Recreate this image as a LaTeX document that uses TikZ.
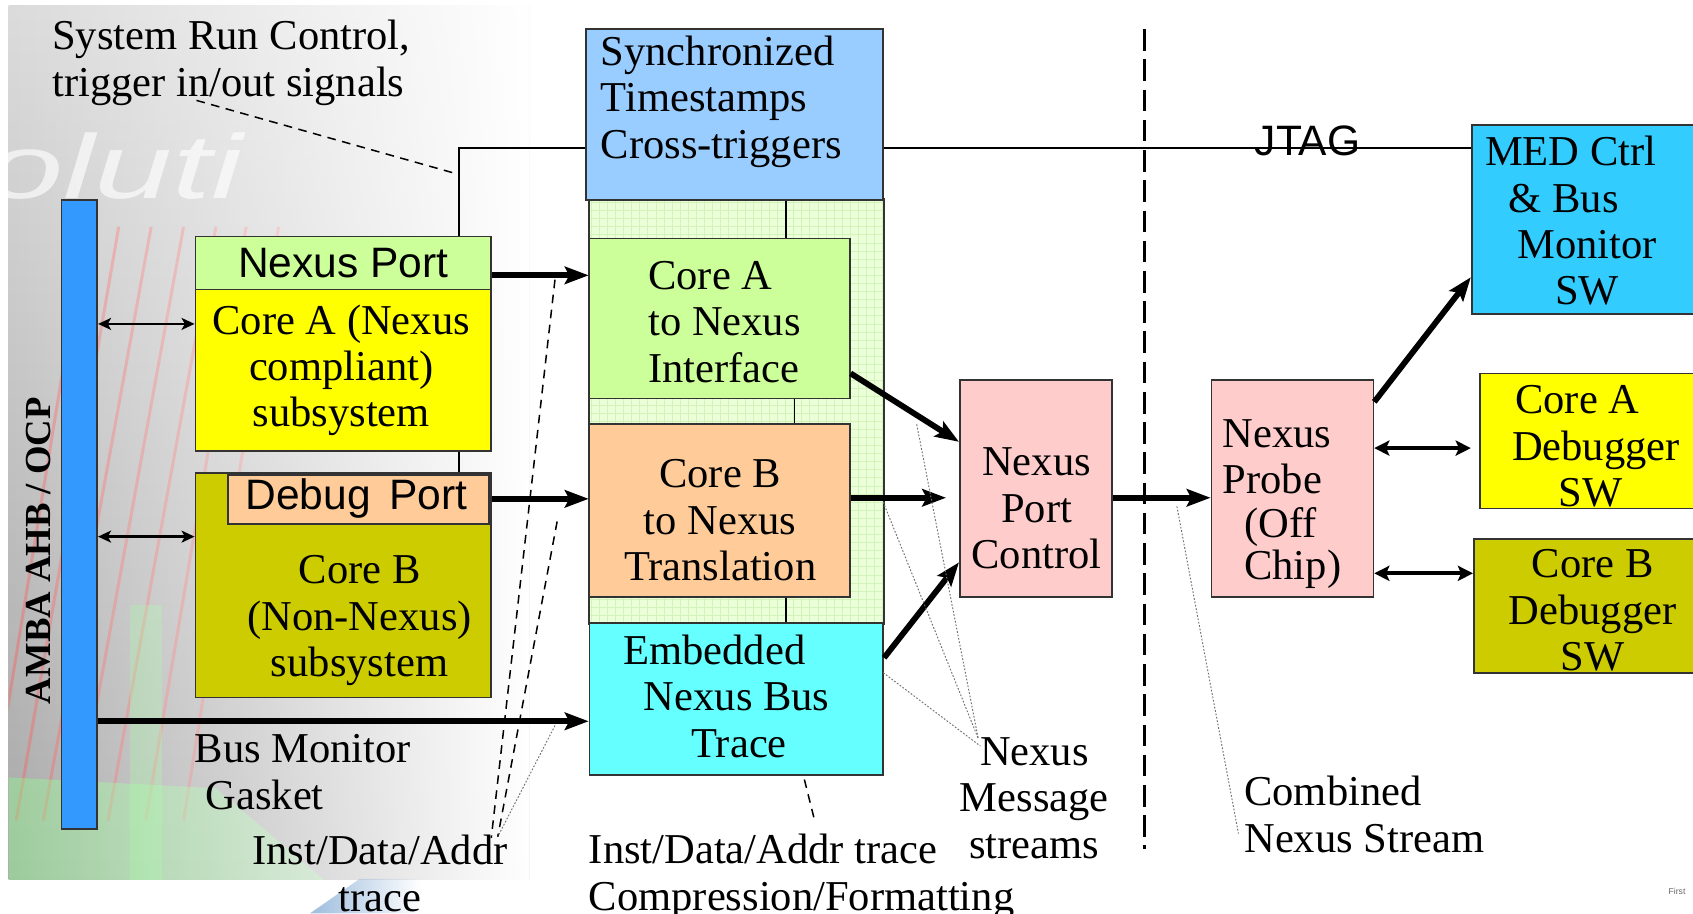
\documentclass[tikz,border=0pt]{standalone}
\usepackage{fontspec}
\setmainfont{Liberation Serif}
\newfontfamily\arialfont{Liberation Sans}
\usetikzlibrary{arrows.meta,fit,calc,fadings}

\definecolor{syncblue}{HTML}{99CCFF}
\definecolor{portgreen}{HTML}{CCFF99}
\definecolor{coreyellow}{HTML}{FFFF00}
\definecolor{coreolive}{HTML}{CCCC00}
\definecolor{peach}{HTML}{FFCC99}
\definecolor{tracecyan}{HTML}{66FFFF}
\definecolor{pinkbox}{HTML}{FFCCCC}
\definecolor{medblue}{HTML}{33CCFF}
\definecolor{busblue}{HTML}{3399FF}
\definecolor{gridfill}{HTML}{EBFFD9}
\definecolor{gridline}{HTML}{D3F3BA}
\definecolor{edge}{HTML}{333333}
\definecolor{steel}{HTML}{9DBCDD}

\tikzfading[name=whiteout, left color=transparent!100, right color=transparent!0]
\tikzfading[name=fadeeast, left color=transparent!0, right color=transparent!100]

\begin{document}
\begin{tikzpicture}[x=0.5pt, y=-0.5pt,
  box/.style={draw=edge, line width=0.8pt, inner sep=0pt},
  lbl/.style={inner sep=0pt, align=center, font=\fontsize{19.7pt}{21.5pt}\selectfont},
  sanslbl/.style={inner sep=0pt, font=\arialfont\fontsize{19.7pt}{21.5pt}\selectfont},
  wire/.style={line width=0.7pt},
  bigarrow/.style={line width=2.7pt, -{Stealth[length=11pt,width=8pt,inset=2pt]}},
  busarrow/.style={line width=1.3pt, {Stealth[length=6pt,width=5.5pt,inset=1.5pt]}-{Stealth[length=6pt,width=5.5pt,inset=1.5pt]}},
  hostarrow/.style={line width=2pt, {Stealth[length=7pt,width=7pt,inset=1.5pt]}-{Stealth[length=7pt,width=7pt,inset=1.5pt]}},
  pointer/.style={line width=0.7pt, dash pattern=on 4pt off 3pt},
  hairline/.style={line width=0.45pt, black!55, dash pattern=on 0.8pt off 0.8pt},
  divider/.style={line width=1.6pt, dash pattern=on 10pt off 4pt},
]
\useasboundingbox (0,0) rectangle (1568,846);

% photographic backdrop behind the on-chip side
\begin{scope}
  \clip (8,5) rectangle (490,815);
  \shade[top color=black!14, bottom color=black!34] (8,5) rectangle (490,815);
  \foreach \xa/\xb in {-10/80, 15/110, 40/140, 70/170, 100/200, 135/228, 170/258}
    \draw[red!65!white, line width=1.4pt, opacity=0.4] (\xa,760) -- (\xb,210);
  \fill[green!45!white, opacity=0.4] (8,720) -- (200,730) -- (300,815) -- (8,815) -- cycle;
  \fill[green!45!white, opacity=0.3] (120,560) rectangle (150,815);
  \fill[white, path fading=whiteout] (8,5) rectangle (490,815);
  \node[anchor=base west, inner sep=0pt, text=white, opacity=0.65,
        font=\arialfont\itshape\fontsize{42pt}{42pt}\selectfont] (brand) at (-14,184)
        {\scalebox{1.55}[1]{oluti}};
\end{scope}
\fill[steel, path fading=fadeeast] (287,846) -- (333,814) -- (390,814) -- (390,846) -- cycle;

% system bus
\node[box, fill=busblue, fit={(57,185) (90,768)}] (amba) {};
\node[inner sep=0pt, rotate=90, font=\bfseries\fontsize{17pt}{17pt}\selectfont] (ambatxt) at (36,510) {AMBA AHB / OCP};

% on-chip cores
\node[box, fill=portgreen, fit={(181,219) (455,268)}] (nport) {};
\node[sanslbl] (nporttxt) at (318,244) {Nexus Port};
\node[box, fill=coreyellow, fit={(181,268) (455,418)}] (corea) {};
\node[lbl] (coreatxt) at (316,343) {Core A (Nexus\\compliant)\\subsystem};
\node[box, fill=coreolive, fit={(181,438) (455,646)}] (coreb) {};
\node[lbl] (corebtxt) at (333,575) {Core B\\(Non-Nexus)\\subsystem};
\node[box, fill=peach, fit={(211,440) (453,485)}] (dport) {};
\node[sanslbl] (dporttxt) at (330,462) {Debug\hspace{0.43em}Port};

% trace infrastructure column
\node[box, fill=gridfill, fit={(546,185) (818,577)}] (gridcol) {};
\draw[gridline, line width=0.35pt, step=3.75pt] (546,185) grid (818,577);
\draw[edge, line width=0.8pt] (gridcol.north west) rectangle (gridcol.south east);
\node[box, fill=syncblue, fit={(543,27) (818,185)}] (sync) {};
\node[lbl, anchor=west, align=left] (synctxt) at (556,94) {Synchronized\\Timestamps\\Cross-triggers};
\node[box, fill=portgreen, fit={(546,221) (787,369)}] (ciface) {};
\node[lbl, anchor=west, align=left] (cifacetxt) at (600,298) {Core A\\to Nexus\\Interface};
\node[box, fill=peach, fit={(546,393) (787,553)}] (btrans) {};
\node[lbl] (btranstxt) at (667,482) {Core B\\to Nexus\\Translation};
\node[box, fill=tracecyan, fit={(546,577) (818,718)}] (ebt) {};
\node[lbl, anchor=west, align=left] (ebttxt) at (577,645) {Embedded\\\hspace*{9.5pt}Nexus Bus\\\hspace*{31.5pt}Trace};

\coordinate (gA) at (728,0);
\coordinate (gB) at (736,0);
\draw[wire] (sync.south -| gA) -- (ciface.north -| gA);
\draw[wire] (ciface.south -| gB) -- (btrans.north -| gB);
\draw[wire] (btrans.south -| gA) -- (ebt.north -| gA);

% port control and off-chip side
\node[box, fill=pinkbox, fit={(889,352) (1030,553)}] (npc) {};
\node[lbl] (npctxt) at (960,471) {Nexus\\Port\\Control};
\node[box, fill=pinkbox, fit={(1122,352) (1272,553)}] (probe) {};
\node[lbl, anchor=west, align=left] (probetxtA) at (1132,423) {Nexus\\Probe};
\node[lbl, anchor=west] (probetxtB) at (1152,488) {(Off};
\node[lbl, anchor=west] (probetxtC) at (1152,527) {Chip)};
\node[box, fill=medblue, fit={(1363,116) (1590,291)}] (med) {};
\node[lbl, anchor=west, align=left] (medtxt) at (1375,204.5) {MED Ctrl\\\hspace*{11pt}\& Bus\\\hspace*{15pt}Monitor\\\hspace*{32.5pt}SW};
\node[box, fill=coreyellow, fit={(1371,346) (1590,471)}] (adbg) {};
\node[lbl, anchor=west, align=left] (adbgtxt) at (1400,413.5) {\hspace*{1.5pt}Core A\\Debugger\\\hspace*{21.5pt}SW};
\node[box, fill=coreolive, fit={(1365,499) (1590,623)}] (bdbg) {};
\node[lbl] (bdbgtxt) at (1475,565.5) {Core B\\Debugger\\SW};

% run control / JTAG wiring
\coordinate (jt) at (425,137);
\draw[wire] (nport.north -| jt) -- (jt) -- (sync.west |- jt);
\draw[wire] (sync.east |- jt) -- (med.west |- jt);
\draw[wire] (corea.south -| jt) -- (coreb.north -| jt);
\node[sanslbl] (jtag) at (1211,130) {JTAG};

% chip boundary
\coordinate (divtop) at (1060,27);
\coordinate (divbot) at (1060,786);
\draw[divider] (divtop) -- (divbot);

% data paths
\coordinate (yA) at (0,300);
\coordinate (yB) at (0,497);
\coordinate (yNP) at (0,255);
\coordinate (yDP) at (0,462);
\coordinate (yBM) at (0,668);
\coordinate (yMid) at (0,461);
\coordinate (yAd) at (0,415);
\coordinate (yBd) at (0,531);
\draw[busarrow] (amba.east |- yA) -- (corea.west |- yA);
\draw[busarrow] (amba.east |- yB) -- (coreb.west |- yB);
\draw[bigarrow] (nport.east |- yNP) -- (ciface.west |- yNP);
\draw[bigarrow] (coreb.east |- yDP) -- (btrans.west |- yDP);
\draw[bigarrow] (amba.east |- yBM) -- (ebt.west |- yBM);
\draw[bigarrow] ($(ciface.south east)+(0,-24)$) -- ($(npc.north west)+(0,58)$);
\draw[bigarrow, shorten >=6pt] (btrans.east |- yMid) -- (npc.west |- yMid);
\draw[bigarrow] ($(ebt.north east)+(0,33)$) -- ($(npc.south west)+(0,-33)$);
\draw[bigarrow] (npc.east |- yMid) -- (probe.west |- yMid);
\draw[bigarrow] ($(probe.north east)+(0,21)$) -- ($(med.south west)+(0,-35)$);
\draw[hostarrow, shorten >=4pt] (probe.east |- yAd) -- (adbg.west |- yAd);
\draw[hostarrow] (probe.east |- yBd) -- (bdbg.west |- yBd);

% annotations
\node[lbl, anchor=west, align=left] (runctl) at (48,58) {System Run Control,\\trigger in/out signals};
\coordinate (runctlTip) at (182,93);
\coordinate (runctlEnd) at (423,161);
\draw[pointer] (runctlTip) -- (runctlEnd);

\node[lbl, anchor=west, align=left] (gasket) at (180,715) {Bus Monitor\\\hspace*{5pt}Gasket};
\node[lbl] (idatxt) at (352,809) {Inst/Data/Addr\\trace};
\coordinate (idaA) at (455,776);
\coordinate (idaB) at (461,775);
\coordinate (idaC) at (462,773);
\coordinate (npTap) at (514,259);
\coordinate (dpTap) at (516,483);
\coordinate (bmTap) at (514,672);
\draw[pointer] (npTap) -- (idaA);
\draw[pointer] (dpTap) -- (idaB);
\draw[hairline] (bmTap) -- (idaC);

\node[lbl, anchor=west, align=left] (comptxt) at (545,812) {Inst/Data/Addr trace\\Compression/Formatting};
\coordinate (compTop) at (745,722);
\coordinate (compBot) at (755,762);
\draw[pointer] (compTop) -- (compBot);

\node[lbl] (msgtxt) at (958,739) {Nexus\\Message\\streams};
\coordinate (msgTip) at (906,684);
\coordinate (msgTipB) at (908,691);
\coordinate (msgA) at (849,393);
\coordinate (msgB) at (818,465);
\coordinate (msgC) at (818,623);
\draw[hairline] (msgA) -- (msgTip);
\draw[hairline] (msgB) -- (msgTip);
\draw[hairline] (msgC) -- (msgTipB);

\node[lbl, anchor=west, align=left] (combtxt) at (1152,754.5) {Combined\\Nexus Stream};
\coordinate (combA) at (1090,469);
\coordinate (combB) at (1147,772);
\draw[hairline] (combA) -- (combB);

\node[anchor=west, inner sep=0pt, text=black!60, font=\arialfont\fontsize{4pt}{4pt}\selectfont] (footer) at (1545,826) {First};
\end{tikzpicture}
\end{document}
